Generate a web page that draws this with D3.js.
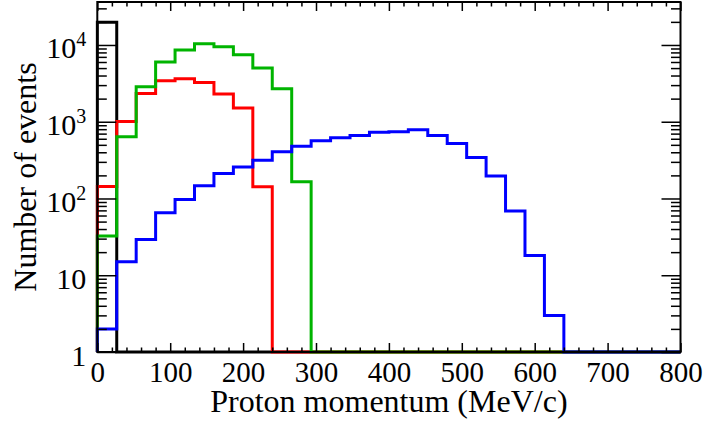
<!DOCTYPE html>
<html>
<head>
<meta charset="utf-8">
<script src="https://cdn.jsdelivr.net/npm/d3@7"></script>
<style>
    body { margin: 0; background: #fff; }
    svg { display: block; }
    .lbl { font-family: "Liberation Serif", "DejaVu Serif", serif; fill: #000; }
</style>
</head>
<body>
<svg id="chart" width="705" height="422"></svg>
<script>
// ----- data (30 bins from 0 to 800 MeV/c)
var binEdgeMin = 0;
var binEdgeMax = 800;
var xTicks = [0, 100, 200, 300, 400, 500, 600, 700, 800];
var yTicks = [1, 10, 100, 1000, 10000];

var blackCounts = [19700, 0, 0, 0, 0, 0, 0, 0, 0, 0, 0, 0, 0, 0, 0, 0, 0, 0, 0, 0, 0, 0, 0, 0, 0, 0, 0, 0, 0, 0];
var redCounts = [143, 1010, 2340, 3415, 3625, 3250, 2290, 1505, 142, 0, 0, 0, 0, 0, 0, 0, 0, 0, 0, 0, 0, 0, 0, 0, 0, 0, 0, 0, 0, 0];
var greenCounts = [32.5, 635, 2850, 5980, 8580, 10370, 9480, 7450, 5000, 2685, 165, 0, 0, 0, 0, 0, 0, 0, 0, 0, 0, 0, 0, 0, 0, 0, 0, 0, 0, 0];
var blueCounts = [2, 15, 29.2, 65, 97, 146, 212, 258, 316, 405, 481, 564, 617, 663, 731, 740, 784, 663, 521, 342, 197, 68.9, 18.1, 3, 0, 0, 0, 0, 0, 0];

drawHistograms();

function drawHistograms() {
    var svg = d3.select("#chart"),
        margin = { top: 2, right: 24.5, bottom: 70, left: 97.3 },
        width = +svg.attr("width") - margin.left - margin.right,
        height = +svg.attr("height") - margin.top - margin.bottom,
        g = svg.append("g").attr("transform", "translate(" + margin.left + "," + margin.top + ")");

    var x = d3.scaleLinear().domain([binEdgeMin, binEdgeMax]).range([0, width]);
    var y = d3.scaleLog().domain([1, 36300]).range([height, 0]);

    svg.append("defs").append("clipPath").attr("id", "frame-clip")
      .append("rect").attr("x", -2).attr("y", 0).attr("width", width + 4).attr("height", height + 3);

    // ----- histograms, drawn black, red, green, blue (blue on top)
    var series = [
        { id: "black", color: "#000000", values: blackCounts },
        { id: "red", color: "#ff0000", values: redCounts },
        { id: "green", color: "#00b400", values: greenCounts },
        { id: "blue", color: "#0000ff", values: blueCounts }
    ];
    var nBins = blackCounts.length;
    var binW = (binEdgeMax - binEdgeMin) / nBins;

    // empty bins sit on the bottom of the log frame
    function yv(v) { return v > 1 ? y(v) : y(1); }

    function stepPath(values) {
        var p = d3.path();
        p.moveTo(x(binEdgeMin), y(1));
        values.forEach(function (v, i) {
            p.lineTo(x(binEdgeMin + i * binW), yv(v));
            p.lineTo(x(binEdgeMin + (i + 1) * binW), yv(v));
        });
        p.lineTo(x(binEdgeMax), y(1));
        return p.toString();
    }

    g.append("g").attr("clip-path", "url(#frame-clip)")
      .selectAll("path")
      .data(series)
      .enter().append("path")
        .attr("d", function (d) { return stepPath(d.values); })
        .attr("fill", "none")
        .attr("stroke", function (d) { return d.color; })
        .attr("stroke-width", 3)
        .attr("stroke-linejoin", "miter");

    // ----- axes, ticks inside the frame
    var xMinor = d3.range(0, 801, 20).filter(function (v) { return v % 100 !== 0; });
    var yMinor = [];
    [1, 10, 100, 1000, 10000].forEach(function (dec) {
        for (var k = 2; k <= 9; k++) { if (dec * k <= 36300) yMinor.push(dec * k); }
    });

    function styleAxis(sel) {
        sel.select(".domain").remove();
        sel.selectAll("line").attr("stroke", "#000").attr("stroke-width", 1.5);
    }

    // bottom
    g.append("g").attr("transform", "translate(0," + height + ")")
        .call(d3.axisBottom(x).tickValues(xMinor).tickSize(-4.5).tickFormat(""))
        .call(styleAxis);
    var xAxis = g.append("g").attr("transform", "translate(0," + height + ")")
        .call(d3.axisBottom(x).tickValues(xTicks).tickSize(-9).tickFormat(d3.format("d")))
        .call(styleAxis);
    xAxis.selectAll("text")
        .attr("class", "lbl")
        .attr("y", 29.5).attr("dy", 0)
        .style("font-size", "29px");

    // top
    g.append("g")
        .call(d3.axisTop(x).tickValues(xMinor).tickSize(-4.5).tickFormat(""))
        .call(styleAxis);
    g.append("g")
        .call(d3.axisTop(x).tickValues(xTicks).tickSize(-9).tickFormat(""))
        .call(styleAxis);

    // left
    g.append("g")
        .call(d3.axisLeft(y).tickValues(yMinor).tickSize(-9.5).tickFormat(""))
        .call(styleAxis);
    var yAxis = g.append("g")
        .call(d3.axisLeft(y).tickValues(yTicks).tickSize(-19).tickFormat(""))
        .call(styleAxis);
    yAxis.selectAll(".tick text")
        .attr("class", "lbl")
        .attr("x", -11).attr("dy", 0).attr("y", 13)
        .attr("text-anchor", "end")
        .style("font-size", "30px")
        .each(function (d) {
            var t = d3.select(this);
            var p = Math.round(Math.log10(d));
            if (p === 0) { t.text("1"); }
            else if (p === 1) { t.text("10"); }
            else {
                t.append("tspan").text("10");
                t.append("tspan").attr("dy", -12).style("font-size", "20px").text(p);
            }
        });

    // right
    g.append("g").attr("transform", "translate(" + width + ",0)")
        .call(d3.axisRight(y).tickValues(yMinor).tickSize(-9.5).tickFormat(""))
        .call(styleAxis);
    g.append("g").attr("transform", "translate(" + width + ",0)")
        .call(d3.axisRight(y).tickValues(yTicks).tickSize(-19).tickFormat(""))
        .call(styleAxis);

    // frame
    g.append("rect")
        .attr("x", 0).attr("y", 0)
        .attr("width", width).attr("height", height)
        .attr("fill", "none")
        .attr("stroke", "#000")
        .attr("stroke-width", 2);

    // ----- titles
    svg.append("text")
        .attr("class", "lbl")
        .attr("x", margin.left + width / 2)
        .attr("y", 412)
        .attr("text-anchor", "middle")
        .style("font-size", "32px")
        .text("Proton momentum (MeV/c)");

    svg.append("text")
        .attr("class", "lbl")
        .attr("transform", "translate(36," + (margin.top + height / 2) + ") rotate(-90)")
        .attr("text-anchor", "middle")
        .style("font-size", "32px")
        .text("Number of events");
}
</script>
</body>
</html>
